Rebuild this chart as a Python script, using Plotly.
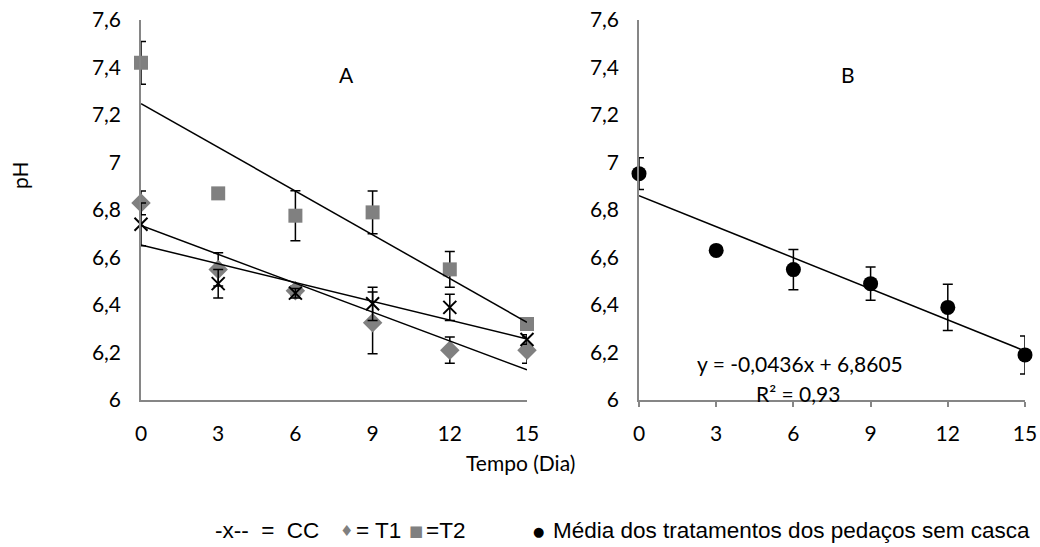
import numpy as np
import plotly.graph_objects as go

# Sampling days
dias = [0, 3, 6, 9, 12, 15]

# Panel A: pH of each treatment (mean and error)
ph_cc = [6.74, 6.49, 6.45, 6.405, 6.39, 6.255]
err_cc = [0.09, 0.06, 0.02, 0.07, 0.055, 0.02]
ph_t1 = [6.83, 6.55, 6.46, 6.325, 6.21, 6.21]
err_t1 = [0.05, 0.07, 0.02, 0.13, 0.055, 0.055]
ph_t2 = [7.42, 6.87, 6.776, 6.79, 6.55, 6.32]
err_t2 = [0.09, 0.0, 0.105, 0.09, 0.075, 0.02]

# Panel B: mean of treatments of peeled pieces
ph_media = [6.953, 6.63, 6.549, 6.49, 6.39, 6.19]
err_media = [0.067, 0.0, 0.085, 0.07, 0.097, 0.08]
slope_b = -0.0436
intercept_b = 6.8605
r2_b = "0,93"

# Axis ticks
y_ticks = [6.0, 6.2, 6.4, 6.6, 6.8, 7.0, 7.2, 7.4, 7.6]
y_ticktext = ["6", "6,2", "6,4", "6,6", "6,8", "7", "7,2", "7,4", "7,6"]
x_ticks = [0, 3, 6, 9, 12, 15]

W, H = 1040, 547
GRAY = "#808080"
AXIS_GRAY = "#868686"
TICK_FONT = dict(family="Lato", size=21, color="black")


def px_x(p):
    return p / W


def px_y(p):
    return (H - p) / H


fig = go.Figure()


def err(vals):
    return dict(type="data", array=vals, visible=True, color="black", thickness=1.5, width=5)


# Panel A markers
fig.add_trace(go.Scatter(x=dias, y=ph_t2, mode="markers", error_y=err(err_t2),
                         marker=dict(symbol="square", size=14, color=GRAY),
                         xaxis="x", yaxis="y", cliponaxis=False, showlegend=False))
fig.add_trace(go.Scatter(x=dias, y=ph_t1, mode="markers", error_y=err(err_t1),
                         marker=dict(symbol="diamond", size=15, color=GRAY),
                         xaxis="x", yaxis="y", cliponaxis=False, showlegend=False))
fig.add_trace(go.Scatter(x=dias, y=ph_cc, mode="markers", error_y=err(err_cc),
                         marker=dict(symbol="x-thin-open", size=13, color="black",
                                     line=dict(color="black", width=2)),
                         xaxis="x", yaxis="y", cliponaxis=False, showlegend=False))

# Panel A linear trend lines (least squares)
x_line = np.array([dias[0], dias[-1]], dtype=float)
for serie in (ph_t2, ph_t1, ph_cc):
    b, a = np.polyfit(dias, serie, 1)
    fig.add_trace(go.Scatter(x=x_line, y=a + b * x_line, mode="lines",
                             line=dict(color="black", width=1.5),
                             xaxis="x", yaxis="y", showlegend=False, hoverinfo="skip"))

# Panel B markers and trend line
fig.add_trace(go.Scatter(x=dias, y=ph_media, mode="markers", error_y=err(err_media),
                         marker=dict(symbol="circle", size=15, color="black"),
                         xaxis="x2", yaxis="y2", cliponaxis=False, showlegend=False))
fig.add_trace(go.Scatter(x=x_line, y=intercept_b + slope_b * x_line, mode="lines",
                         line=dict(color="black", width=1.5),
                         xaxis="x2", yaxis="y2", showlegend=False, hoverinfo="skip"))

y_dom = [px_y(400), px_y(20)]
common_x = dict(range=[0, 15], tickvals=x_ticks, showline=True, linecolor=AXIS_GRAY,
                linewidth=1.5, showgrid=False, zeroline=False, tickfont=TICK_FONT,
                automargin=False, fixedrange=True)
common_y = dict(range=[6, 7.6], tickvals=y_ticks, ticktext=y_ticktext, showline=True,
                linecolor=AXIS_GRAY, linewidth=1.5, showgrid=False, zeroline=False,
                tickfont=TICK_FONT, automargin=False, fixedrange=True,
                ticks="outside", ticklen=14, tickcolor="rgba(0,0,0,0)")

fig.update_layout(
    width=W, height=H,
    margin=dict(l=0, r=0, t=0, b=0),
    paper_bgcolor="white", plot_bgcolor="white",
    xaxis=dict(domain=[px_x(141), px_x(527)], anchor="y",
               ticks="outside", ticklen=14, tickcolor="rgba(0,0,0,0)", **common_x),
    yaxis=dict(domain=y_dom, anchor="x", **common_y),
    xaxis2=dict(domain=[px_x(639), px_x(1025)], anchor="y2",
                ticks="outside", ticklen=5, tickcolor=AXIS_GRAY, tickwidth=1.5,
                ticklabelstandoff=9, **common_x),
    yaxis2=dict(domain=y_dom, anchor="x2", **common_y),
)

ann_font = dict(family="Lato", size=21, color="black")
eq_font = dict(family="Lato", size=21, color="black")
leg_font = dict(family="Liberation Sans", size=22.5, color="black")
annotations = [
    dict(text="A", x=px_x(346), y=px_y(74), font=ann_font),
    dict(text="B", x=px_x(848), y=px_y(74), font=ann_font),
    dict(text="pH", x=px_x(19), y=px_y(175), textangle=-90, font=ann_font),
    dict(text="Tempo (Dia)", x=px_x(520), y=px_y(462), font=ann_font),
    dict(text="y = -0,0436x + 6,8605", x=px_x(800), y=px_y(363), font=eq_font),
    dict(text="R² = " + r2_b, x=px_x(798), y=px_y(393), font=eq_font),
    # legend line
    dict(text="-x--  =  CC", x=px_x(213), y=px_y(530), xanchor="left", font=leg_font),
    dict(text="♦", x=px_x(346), y=px_y(531), font=dict(family="DejaVu Sans", size=15, color=GRAY)),
    dict(text="= T1", x=px_x(354), y=px_y(530), xanchor="left", font=leg_font),
    dict(text="■", x=px_x(416), y=px_y(531), font=dict(family="DejaVu Sans", size=15, color=GRAY)),
    dict(text="=T2", x=px_x(424), y=px_y(530), xanchor="left", font=leg_font),
    dict(text="●", x=px_x(538), y=px_y(531), font=dict(family="DejaVu Sans", size=13, color="black")),
    dict(text="Média dos tratamentos dos pedaços sem casca", x=px_x(551), y=px_y(530),
         xanchor="left", font=leg_font),
]
for a in annotations:
    a.setdefault("xanchor", "center")
    a.update(xref="paper", yref="paper", yanchor="middle", showarrow=False)
fig.update_layout(annotations=annotations)

fig.write_html("out.html")
